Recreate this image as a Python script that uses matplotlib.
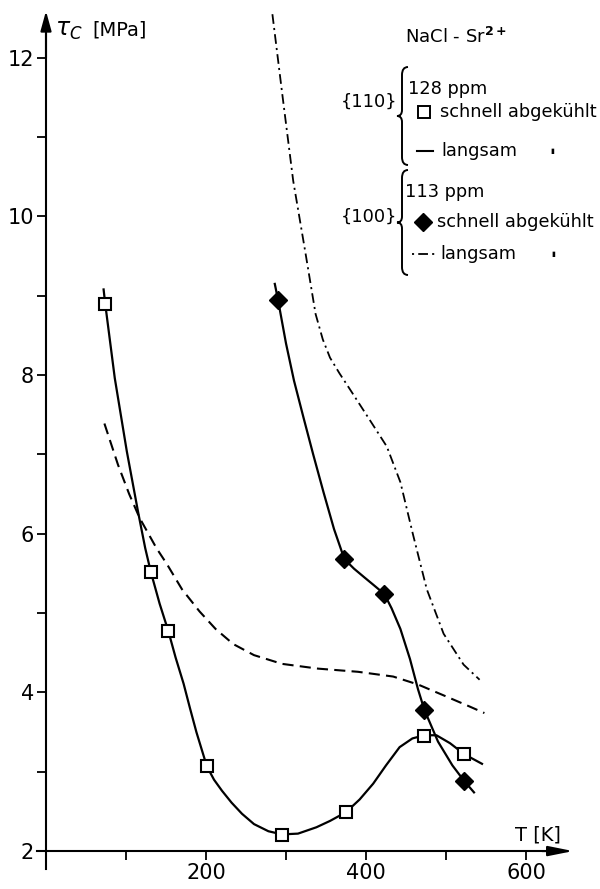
import matplotlib
matplotlib.use("Agg")
import matplotlib.pyplot as plt
from matplotlib.path import Path
from matplotlib.patches import PathPatch
from matplotlib.lines import Line2D
from matplotlib.transforms import Affine2D
from matplotlib.ticker import MultipleLocator

# {110} 128 ppm, schnell abgekühlt (Messpunkte)
sq_T = [74, 131, 153, 201, 295, 375, 473, 523]
sq_tau = [8.90, 5.52, 4.77, 3.07, 2.20, 2.49, 3.45, 3.22]
# Ausgleichskurve durch die Quadrate
sq_fit_T = [72, 74, 86, 101, 115, 124, 131, 142, 153, 162, 172, 180, 188, 201,
            210, 220, 232, 245, 260, 278, 295, 315, 338, 355, 375, 392, 409,
            425, 442, 458, 473, 488, 505, 523, 545]
sq_fit_tau = [9.08, 8.90, 7.96, 7.04, 6.28, 5.82, 5.52, 5.12, 4.77, 4.44, 4.11,
              3.80, 3.50, 3.07, 2.90, 2.76, 2.61, 2.47, 2.34, 2.25, 2.21, 2.22,
              2.30, 2.38, 2.49, 2.65, 2.85, 3.08, 3.31, 3.42, 3.46, 3.46, 3.36,
              3.22, 3.10]

# {100} 113 ppm, schnell abgekühlt
dia_T = [290, 373, 423, 473, 523]
dia_tau = [8.95, 5.68, 5.24, 3.78, 2.88]
dia_fit_T = [286, 290, 300, 310, 322, 334, 347, 360, 373, 385, 398, 410, 423,
             432, 443, 455, 465, 473, 490, 508, 523, 535]
dia_fit_tau = [9.15, 8.95, 8.40, 7.93, 7.46, 7.00, 6.52, 6.06, 5.68, 5.56, 5.45,
               5.35, 5.24, 5.06, 4.80, 4.42, 4.04, 3.78, 3.38, 3.08, 2.88, 2.74]

# {110} langsam (gestrichelt)
slow110_T = [73, 90, 104, 117, 138, 151, 170, 192, 212, 234, 260, 295, 340,
             390, 434, 465, 500, 530, 548]
slow110_tau = [7.39, 6.87, 6.50, 6.20, 5.82, 5.62, 5.30, 5.02, 4.80, 4.61,
               4.47, 4.36, 4.30, 4.26, 4.20, 4.10, 3.95, 3.82, 3.74]

# {100} langsam (strichpunktiert)
slow100_T = [283, 295, 309, 324, 337, 346, 355, 367, 380, 405, 426, 443, 459,
             476, 497, 522, 542]
slow100_tau = [12.55, 11.57, 10.45, 9.56, 8.77, 8.45, 8.22, 8.02, 7.82, 7.43,
               7.10, 6.65, 5.98, 5.30, 4.74, 4.35, 4.16]

x_major = [200, 400, 600]
y_major = [2, 4, 6, 8, 10, 12]

plt.rcParams['font.family'] = ['DejaVu Sans']
plt.rcParams['lines.scale_dashes'] = False

fig = plt.figure(figsize=(6, 8.89), dpi=100)
ax = fig.add_axes([34 / 600, 18.1 / 889, 548 / 600, 868.6 / 889])
ax.set_xlim(-15, 670)
ax.set_ylim(1.75, 12.7)

# Achsen
for s in ['top', 'right']:
    ax.spines[s].set_visible(False)
ax.spines['left'].set_position(('data', 0))
ax.spines['bottom'].set_position(('data', 2))
ax.spines['left'].set_bounds(1.78, 12.3)
ax.spines['bottom'].set_bounds(-11, 640)
for s in ['left', 'bottom']:
    ax.spines[s].set_linewidth(1.5)
ax.annotate("", xy=(0, 12.59), xytext=(0, 12.0),
            arrowprops=dict(arrowstyle="-|>,head_length=1.2,head_width=0.33",
                            color='black', lw=1.5, shrinkA=0, shrinkB=0))
ax.annotate("", xy=(659, 2), xytext=(620, 2),
            arrowprops=dict(arrowstyle="-|>,head_length=1.5,head_width=0.3",
                            color='black', lw=1.5, shrinkA=0, shrinkB=0))

ax.xaxis.set_major_locator(plt.FixedLocator(x_major))
ax.xaxis.set_minor_locator(MultipleLocator(100))
ax.yaxis.set_major_locator(plt.FixedLocator(y_major))
ax.yaxis.set_minor_locator(MultipleLocator(1))
ax.tick_params(which='both', direction='out', length=6.5, width=1.3, colors='black')
ax.tick_params(axis='both', labelsize=15, pad=2)

# Kurven
ax.plot(sq_fit_T, sq_fit_tau, color='black', lw=1.6)
ax.plot(dia_fit_T, dia_fit_tau, color='black', lw=1.6)
ax.plot(slow110_T, slow110_tau, color='black', lw=1.5, dashes=(8, 4.5))
ax.plot(slow100_T, slow100_tau, color='black', lw=1.3, dashes=(7, 3, 1.5, 3))
ax.plot(sq_T, sq_tau, 's', ms=9, mfc='white', mec='black', mew=1.5, zorder=5)
ax.plot(dia_T, dia_tau, 'D', ms=9, mfc='black', mec='black', zorder=5)

# Texte in Bildpunkten der Vorlage
px = Affine2D().scale(1 / 600, -1 / 889).translate(0, 1) + fig.transFigure

fig.text(55, 30, r"$\tau_C$", transform=px, fontsize=17, va='center')
fig.text(92, 30, "[MPa]", transform=px, fontsize=14, va='center')
fig.text(515, 835, "T [K]", transform=px, fontsize=14, va='center')
fig.text(405, 37, r"NaCl - Sr$^{\mathbf{2+}}$", transform=px, fontsize=13, va='center')


def brace(x, y0, y1, w=6):
    ym = (y0 + y1) / 2
    verts = [(x + w, y0), (x, y0), (x, y0 + 8), (x, ym - 6), (x, ym), (x - 5, ym),
             (x, ym), (x, ym + 6), (x, y1 - 8), (x, y1), (x + w, y1)]
    codes = [Path.MOVETO, Path.CURVE3, Path.CURVE3, Path.LINETO, Path.CURVE3,
             Path.CURVE3, Path.CURVE3, Path.CURVE3, Path.LINETO, Path.CURVE3,
             Path.CURVE3]
    fig.add_artist(PathPatch(Path(verts, codes), transform=px, fill=False,
                             lw=1.4, color='black'))


brace(402, 67, 165)
brace(402, 170, 275)

fs = 12.8
fig.text(397, 102, "{110}", transform=px, fontsize=fs, va='center', ha='right')
fig.text(408, 89, "128 ppm", transform=px, fontsize=fs, va='center')
fig.add_artist(Line2D([424], [112], transform=px, marker='s', ms=8, mfc='white',
                      mec='black', mew=1.4))
fig.text(440, 112, "schnell abgekühlt", transform=px, fontsize=fs, va='center')
fig.add_artist(Line2D([417, 433], [151, 151], transform=px, color='black', lw=1.5))
fig.text(441, 151, "langsam", transform=px, fontsize=fs, va='center')
fig.text(552, 151, "▮", transform=px, fontsize=5, va='center', ha='center')

fig.text(397, 217, "{100}", transform=px, fontsize=fs, va='center', ha='right')
fig.text(405, 192, "113 ppm", transform=px, fontsize=fs, va='center')
fig.add_artist(Line2D([423], [222], transform=px, marker='D', ms=9, mfc='black',
                      mec='black'))
fig.text(437, 222, "schnell abgekühlt", transform=px, fontsize=fs, va='center')
fig.add_artist(Line2D([412, 436], [254, 254], transform=px, color='black', lw=1.3,
                      dashes=(1.5, 3, 7, 3)))
fig.text(440, 254, "langsam", transform=px, fontsize=fs, va='center')
fig.text(553, 254, "▮", transform=px, fontsize=5, va='center', ha='center')

fig.savefig("out.png", dpi=100, facecolor='white')
